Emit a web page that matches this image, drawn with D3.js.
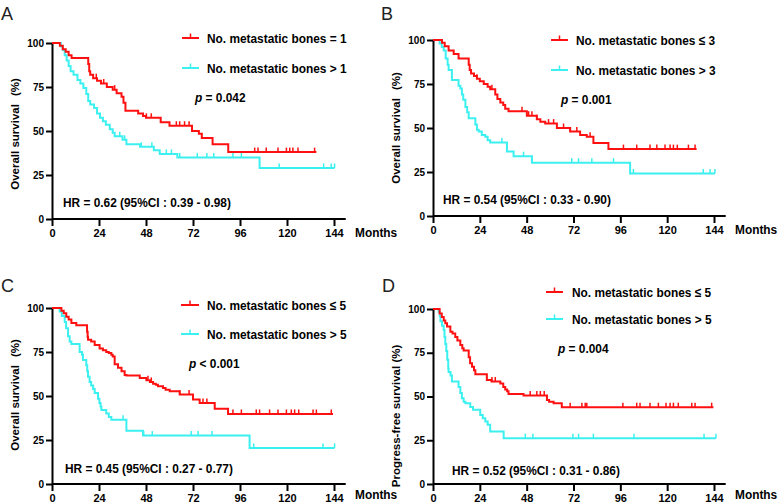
<!DOCTYPE html>
<html>
<head>
<meta charset="utf-8">
<script src="https://cdn.jsdelivr.net/npm/d3@7"></script>
<style>
  body { margin: 0; background: #fff; }
  svg text { font-family: "Liberation Sans", Arial, Helvetica, sans-serif; }
</style>
</head>
<body>
<svg id="chart" width="780" height="503"></svg>
<script>
// ---- values ----
const xTicks = [0, 24, 48, 72, 96, 120, 144];
const yTicks = [0, 25, 50, 75, 100];
const panelLetters = ["A", "B", "C", "D"];
const yTitles = ["Overall survival", "Overall survival", "Overall survival", "Progress-free survival (%)"];
const legendLow = ["No. metastatic bones = 1", "No. metastatic bones ≤ 3", "No. metastatic bones ≤ 5", "No. metastatic bones ≤ 5"];
const legendHigh = ["No. metastatic bones > 1", "No. metastatic bones > 3", "No. metastatic bones > 5", "No. metastatic bones > 5"];
const pLabels = [" = 0.042", " = 0.001", " < 0.001", " = 0.004"];
const hrLabels = [
  "HR = 0.62 (95%CI : 0.39 - 0.98)",
  "HR = 0.54 (95%CI : 0.33 - 0.90)",
  "HR = 0.45 (95%CI : 0.27 - 0.77)",
  "HR = 0.52 (95%CI : 0.31 - 0.86)"
];

// Kaplan-Meier steps: [month, survival %], and censor times (months)
const stepsA_low = [[0,100],[4,98.5],[5.5,96.5],[7,95],[8.5,93],[10,91.5],[18.5,88],[19,84],[19.5,82],[21,80],[23,78.5],[25,77],[28,75],[31,73.5],[33,71.5],[35.5,69.5],[36.5,66],[37.5,61.5],[44,60],[46.5,58.5],[48,57.5],[55.5,55],[60,53],[71.5,50],[75,48.5],[76.5,46],[82,42.5],[90,38],[135,38]];
const censA_low = [22.6, 26.4, 32, 48.2, 50.7, 63.5, 65.2, 67.7, 70, 103.5, 105.2, 109.4, 115.4, 119.7, 121.4, 123, 125.6, 134.1];
const stepsA_high = [[0,100],[4.5,98],[5.5,96],[6.5,93],[7.5,90],[8.5,87],[9.5,84],[11,82],[13,79],[14.5,77],[16,74.5],[17.5,71],[18.5,67],[19.5,65],[21.5,63],[23,60],[24.5,57.5],[26,55.5],[27.5,53.5],[29.5,51],[31,49],[32,47],[36,45],[38,42.5],[45,41],[52,39],[55,37],[64,35],[106,29],[144.3,29]];
const censA_high = [34.6, 37.1, 45.6, 51, 58.4, 61, 65.2, 74.2, 79.1, 82.6, 92.4, 96.7, 116, 138.7, 142.6, 144.3];

const stepsB_low = [[0,100],[4.6,98.5],[6,96.5],[8,94],[10.6,92],[13.1,89.5],[18.3,86],[18.8,83],[19.5,81],[21,79.5],[22.5,78],[24,76.5],[26,75],[28,73.5],[29.3,72],[31.9,69],[33,66.5],[34.5,64.5],[36,63],[37,61],[38.7,59.5],[48.1,57],[53.2,55],[55,53.5],[57.5,52.5],[63.5,50],[70.3,48],[75.4,46],[78.8,45],[82.2,41.5],[89.9,38],[135.1,38]];
const censB_low = [22.5, 30.2, 45.6, 49, 50.7, 53.2, 59.2, 61.8, 66.9, 70.3, 73.7, 80.5, 97.6, 104.4, 111.2, 114.7, 118.9, 121.5, 123.2, 125.2, 130.9, 134.3];
const stepsB_high = [[0,100],[3.4,98],[4.5,96],[5.5,94],[6.5,89.5],[7.5,86],[8,83],[9.7,77.3],[13.1,74],[14,72.5],[14.8,69],[15.5,66],[16.6,62],[17.5,59],[18.3,55.5],[21.7,52],[22.5,49],[23.4,48],[25,46],[26.8,45],[28,43],[29.3,41.7],[37.9,36.6],[41.3,34],[50.7,30.3],[101,24.2],[144.5,24.2]];
const censB_high = [35.3, 46.4, 50.7, 71.1, 74.6, 81.4, 92.5, 102.7, 138.5, 142, 144.5];

const stepsC_low = [[0,100],[4.8,98.5],[6,97],[7.3,95],[8.5,93.5],[9.9,91.5],[12.4,90.2],[17.9,86.5],[18.2,83.5],[18.4,82],[20,81],[21.8,79],[24.3,77],[26,76],[27.7,75],[29,74.4],[30.3,73.5],[31,72.5],[32,68],[33.7,66],[35.5,64],[37.1,62],[38,61.7],[44.8,60.2],[48.2,59],[50,58],[51.6,57],[53,56.4],[54.1,55.5],[56.7,54.5],[58,53.6],[60.1,52.7],[65.2,50.8],[72,48],[75.4,46],[83.1,42.8],[89.9,39.8],[143.5,39.8]];
const censC_low = [49, 50.7, 65.2, 70, 77.1, 79.1, 92.4, 96.7, 104.3, 106, 111.1, 115.4, 119.7, 122.2, 123.9, 126, 133.3, 135, 142.6];
const stepsC_high = [[0,100],[3.9,98],[5,95.5],[6.5,92],[7.2,88.5],[8.2,84],[9,81],[9.9,79.5],[14.1,75],[15.3,73.5],[15.8,70.5],[17.5,67.5],[18,64],[18.4,61],[19.2,58],[20,56],[21,54],[21.8,51.7],[23.5,48.5],[24.2,46],[24.8,44],[25.2,42],[27.7,40],[29,38],[30.3,36.5],[38,30.3],[46.5,27.5],[100.9,20.5],[144.3,20.5]];
const censC_high = [36.3, 46.8, 51.2, 71.1, 74.6, 81.7, 103, 138.4, 144.3];

const stepsD_low = [[0,100],[3.4,97.5],[4.5,95.5],[5.5,93.5],[6.3,91.8],[7.2,90],[8.9,87],[10,86],[11.4,84],[12.5,82],[14,79.5],[15,77.6],[15.7,76.3],[18.3,72.5],[19,69],[20,67],[21,65],[21.7,62.7],[27.6,59.5],[30,58.6],[34.5,57.5],[36,55.5],[37,54],[38,53],[38.7,51.5],[46.4,50.6],[58.4,48],[59.5,47],[61.8,46.2],[66,43.9],[143.7,43.9]];
const censD_low = [30.2, 31.9, 49.8, 53.2, 55, 57, 70.3, 76.3, 78, 78.8, 97.3, 104.4, 106.1, 111.2, 115.5, 119.4, 121.5, 123.2, 125.7, 132.6, 134.3, 142.8];
const stepsD_high = [[0,100],[2.9,98.5],[3.5,96],[3.8,93],[4.6,90.5],[5.5,88],[5.9,84],[6.3,80],[6.8,76],[7.3,71],[7.8,66],[8,64],[9,62],[9.7,58.6],[13.1,55.5],[14,52],[14.8,49],[15.7,47],[16.6,46.2],[19.1,44],[20.5,42.4],[24.2,39.5],[25.5,37.6],[26.8,35.7],[28,33.8],[29.3,30],[36.2,26.2],[145,26.2]];
const censD_high = [47.3, 51.2, 71.7, 74.6, 82.2, 103, 138.9, 145];

const lowColor = "#ff1010";
const highColor = "#3cf0f0";

// ---- layout per panel ----
const panels = [
  { x0: 52, x144: 334, yTop: 43, yBot: 219, letter: [1, 20], title: [15, 134], leg: [182, 199, 38, 68, 207], p: [195, 102], hr: [63, 207], months: [355, 237],
    low: stepsA_low, lowC: censA_low, high: stepsA_high, highC: censA_high },
  { x0: 433, x144: 714, yTop: 40, yBot: 216, letter: [381, 20], title: [396, 128], leg: [551, 568, 40, 70, 576], p: [561, 104], hr: [443, 204], months: [735, 234],
    low: stepsB_low, lowC: censB_low, high: stepsB_high, highC: censB_high },
  { x0: 52, x144: 334, yTop: 308, yBot: 484, letter: [1, 292], title: [15, 395], leg: [181, 199, 305, 334, 207], p: [189, 368], hr: [65, 473], months: [355, 499],
    low: stepsC_low, lowC: censC_low, high: stepsC_high, highC: censC_high },
  { x0: 433, x144: 714, yTop: 309, yBot: 484, letter: [382, 292], title: [396, 416], leg: [546, 563, 292, 319, 572], p: [558, 353], hr: [452, 475], months: [735, 499],
    low: stepsD_low, lowC: censD_low, high: stepsD_high, highC: censD_high }
];

const svg = d3.select("#chart");
const SX = 0.88; // text in the figure is slightly condensed

function squeezedText(g, x, y, str, size) {
  return g.append("text")
    .attr("transform", "translate(" + x + "," + y + ") scale(" + SX + ",1)")
    .attr("font-size", size)
    .attr("font-weight", "bold")
    .attr("fill", "#000")
    .text(str);
}

// survival value at month t from a step table
function survAt(steps, t) {
  let s = steps[0][1];
  steps.forEach((d) => { if (d[0] <= t) s = d[1]; });
  return s;
}

panels.forEach((p, i) => {
  const g = svg.append("g");
  const x = d3.scaleLinear().domain([0, 144]).range([p.x0, p.x144]);
  const y = d3.scaleLinear().domain([0, 100]).range([p.yBot, p.yTop]);

  // axes
  const xAxis = d3.axisBottom(x).tickValues(xTicks).tickSize(7).tickSizeOuter(0).tickPadding(3);
  const yAxis = d3.axisLeft(y).tickValues(yTicks).tickSize(6).tickSizeOuter(0).tickPadding(2);

  const gx = g.append("g").attr("transform", "translate(0," + p.yBot + ")").call(xAxis);
  gx.select(".domain").attr("d", "M" + p.x0 + ",0H" + x(150));
  const gy = g.append("g").attr("transform", "translate(" + p.x0 + ",0)").call(yAxis);

  [gx, gy].forEach((a) => {
    a.select(".domain").attr("stroke", "#000").attr("stroke-width", 2);
    a.selectAll(".tick line").attr("stroke", "#000").attr("stroke-width", 2);
    a.selectAll(".tick text").attr("fill", "#000").attr("font-weight", "bold")
      .attr("font-family", "'Liberation Sans', Arial, sans-serif");
  });
  gx.selectAll(".tick text").attr("font-size", 11);
  gy.selectAll(".tick text").attr("font-size", 10);

  // curves: high group first, low group on top
  const line = d3.line().curve(d3.curveStepAfter).x((d) => x(d[0])).y((d) => y(d[1]));
  [[p.high, p.highC, highColor], [p.low, p.lowC, lowColor]].forEach(([steps, cens, col]) => {
    g.append("path").datum(steps)
      .attr("d", line).attr("fill", "none").attr("stroke", col).attr("stroke-width", 2);
    g.selectAll(null).data(cens).enter().append("line")
      .attr("x1", (t) => x(t)).attr("x2", (t) => x(t))
      .attr("y1", (t) => y(survAt(steps, t)))
      .attr("y2", (t) => y(survAt(steps, t)) - 4.5)
      .attr("stroke", col).attr("stroke-width", 1.5);
  });

  // legend
  [[p.leg[2], lowColor, legendLow[i]], [p.leg[3], highColor, legendHigh[i]]].forEach(([ly, col, lab]) => {
    g.append("line").attr("x1", p.leg[0]).attr("x2", p.leg[1]).attr("y1", ly).attr("y2", ly)
      .attr("stroke", col).attr("stroke-width", 2);
    const mid = (p.leg[0] + p.leg[1]) / 2;
    g.append("line").attr("x1", mid).attr("x2", mid).attr("y1", ly).attr("y2", ly - 4.5)
      .attr("stroke", col).attr("stroke-width", 1.5);
    squeezedText(g, p.leg[4], ly + 5, lab, 13.5);
  });

  // p value
  const pt = squeezedText(g, p.p[0], p.p[1], "", 13.5);
  pt.append("tspan").attr("font-style", "italic").text("p");
  pt.append("tspan").text(pLabels[i]);

  // hazard ratio
  squeezedText(g, p.hr[0], p.hr[1], hrLabels[i], 13.5);

  // x unit
  squeezedText(g, p.months[0], p.months[1], "Months", 13.5);

  // y title
  const yt = g.append("text")
    .attr("transform", "translate(" + p.title[0] + "," + p.title[1] + ") rotate(-90)")
    .attr("text-anchor", "middle").attr("dy", "0.36em")
    .attr("font-size", 11.5).attr("font-weight", "bold").attr("fill", "#000");
  yt.append("tspan").text(yTitles[i]);
  if (i < 3) yt.append("tspan").attr("dx", 8).text("(%)");

  // panel letter
  g.append("text").attr("x", p.letter[0]).attr("y", p.letter[1])
    .attr("font-size", 18).attr("fill", "#222").text(panelLetters[i]);
});
</script>
</body>
</html>
